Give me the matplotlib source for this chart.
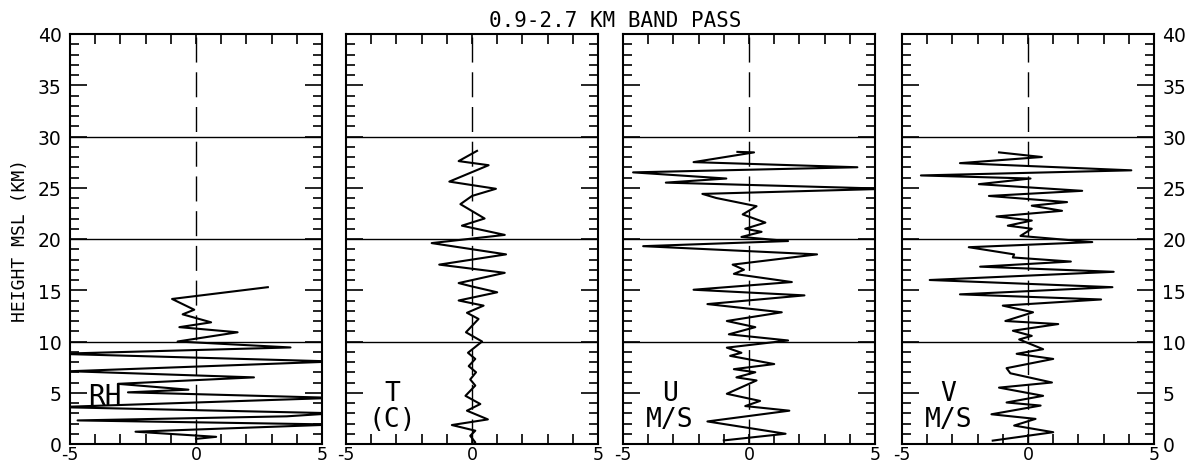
import matplotlib
matplotlib.use("Agg")
import matplotlib.pyplot as plt
from matplotlib.ticker import MultipleLocator

# band-passed profiles (value, height in km), listed from the top of each sounding down
rh_km = [15.3, 14.15, 13.1, 12.65, 11.87, 11.4, 10.9, 10.0, 9.42, 8.8, 8.05, 7.1, 6.5,
         5.87, 5.3, 5.04, 4.5, 3.6, 3.0, 2.7, 2.3, 1.9, 1.2, 0.7, 0.5]
rh_val = [2.85, -0.95, -0.07, -0.53, 0.6, -0.66, 1.65, -0.73, 3.75, -5.5, 5.5, -5.0, 2.3,
          -3.1, -0.3, -2.7, 5.5, -5.5, 5.5, 3.6, -4.7, 5.5, -2.4, 0.8, 0.0]

t_km = [28.6, 27.6, 27.2, 25.6, 24.9, 24.2, 23.4, 22.0, 21.3, 20.4, 19.6, 18.5, 17.5,
        16.7, 15.7, 15.4, 14.8, 14.0, 13.5, 12.8, 12.2, 10.9, 10.0, 8.9, 8.3, 7.6, 7.0,
        6.3, 5.7, 4.7, 3.9, 3.25, 2.4, 1.85, 1.3, 0.8, 0.16, 0.0]
t_val = [0.2, -0.53, 0.66, -0.9, 0.95, 0.0, -0.46, 0.5, -0.4, 1.3, -1.6, 1.35, -1.3,
         1.3, -0.53, -0.05, 1.0, -0.53, 0.46, -0.2, 0.26, -0.24, 0.4, -0.16, 0.13, -0.13, 0.16,
         -0.07, 0.13, -0.26, 0.33, -0.2, 0.63, -0.8, 0.13, -0.07, 0.13, 0.05]

u_km = [28.5, 28.45, 27.5, 27.0, 26.5, 25.9, 25.5, 24.9, 24.4, 24.0, 23.8, 23.2, 22.4,
        21.6, 21.0, 20.7, 20.2, 19.8, 19.3, 18.5, 17.5, 17.0, 16.6, 15.8, 15.05, 14.5,
        13.65, 12.85, 12.0, 11.4, 10.7, 10.1, 9.4, 8.9, 8.6, 7.8, 7.3, 7.0, 6.5, 6.2,
        4.9, 4.2, 3.7, 3.25, 2.2, 1.0, 0.35]
u_val = [-0.46, 0.2, -2.2, 4.3, -4.6, -0.9, -3.3, 5.5, -1.85, -1.3, -0.9, 0.3, -0.25,
         0.65, -0.15, 0.5, -0.3, 1.55, -4.2, 2.7, -0.65, -0.2, -0.6, 1.7, -2.2, 2.2,
         -1.65, 1.3, -0.88, 0.25, -0.8, 1.55, -0.88, -0.3, -0.75, 1.0, -0.6, 0.25, -0.5, 0.3,
         -0.88, 0.44, -0.15, 1.6, -1.65, 1.45, -1.0]

v_km = [28.45, 28.0, 27.4, 26.7, 26.2, 25.9, 25.35, 24.7, 24.2, 23.6, 23.25, 22.75, 22.2,
        21.8, 21.3, 21.0, 20.3, 19.7, 19.2, 18.5, 18.2, 17.8, 17.3, 16.8, 16.0, 15.3, 14.6,
        14.1, 13.5, 12.85, 12.0, 11.7, 11.05, 10.55, 10.2, 9.25, 8.8, 8.3, 7.4, 6.9, 6.0,
        5.5, 4.7, 4.05, 3.75, 2.9, 2.45, 1.8, 1.15, 0.33]
v_val = [-1.15, 0.55, -2.7, 4.1, -4.25, 0.1, -1.95, 2.15, -1.55, 1.55, 0.15, 1.35, -1.25,
         0.15, -0.8, 0.15, -0.3, 2.55, -2.35, -0.55, -0.6, 1.7, -1.9, 3.4, -3.9, 3.35, -2.7,
         2.9, -1.0, 0.2, -0.9, 1.2, -0.6, 0.15, -0.35, 0.6, -0.45, 1.0, -0.85, -0.7, 0.95,
         -1.15, 0.6, -0.85, 0.5, -1.45, 0.3, -0.55, 1.0, -1.4]

panel_names = [["RH"], ["T", "(C)"], ["U", "M/S"], ["V", "M/S"]]
x_ticklabels = ["-5", "", "", "", "", "0", "", "", "", "", "5"]

fig = plt.figure(figsize=(11.85, 4.64), dpi=100)
lefts = [70, 346, 623, 902]
series = [(rh_val, rh_km), (t_val, t_km), (u_val, u_km), (v_val, v_km)]

for i, (left, (vals, kms), names) in enumerate(zip(lefts, series, panel_names)):
    ax = fig.add_axes([left / 1185, 19 / 464, 252 / 1185, 410 / 464])
    ax.set_xlim(-5, 5)
    ax.set_ylim(0, 40)
    for h in (10, 20, 30):
        ax.axhline(h, color="k", lw=1.0)
    ax.axvline(0, color="k", lw=1.0, dashes=(18, 7))
    ax.plot(vals, kms, color="k", lw=1.5)

    ax.set_xticks(range(-5, 6))
    ax.set_xticklabels(x_ticklabels)
    ax.yaxis.set_major_locator(MultipleLocator(5))
    ax.yaxis.set_minor_locator(MultipleLocator(1))
    ax.tick_params(axis="x", direction="in", top=True, length=7, width=1.2,
                   labelsize=12.5, pad=1)
    ax.tick_params(axis="y", which="major", direction="in", left=True, right=True,
                   length=12, width=1.2, labelsize=13.5, pad=6)
    ax.tick_params(axis="y", which="minor", direction="in", left=True, right=True,
                   length=6.5, width=1.2)
    ax.tick_params(axis="y", labelleft=(i == 0), labelright=(i == 3))
    for sp in ax.spines.values():
        sp.set_linewidth(1.5)

    if len(names) == 1:
        ax.text(-4.3, 3.9, names[0], fontsize=20, family="DejaVu Sans Mono",
                ha="left", va="baseline")
    else:
        ax.text(-3.15, 4.3, names[0], fontsize=19, family="DejaVu Sans Mono",
                ha="center", va="baseline")
        ax.text(-3.15, 1.75, names[1], fontsize=19, family="DejaVu Sans Mono",
                ha="center", va="baseline")

    if i == 0:
        ax.set_ylabel("HEIGHT MSL (KM)", fontsize=13, family="DejaVu Sans Mono",
                      labelpad=6)

fig.text(615 / 1185, 1 - 21 / 464, "0.9-2.7 KM BAND PASS", fontsize=15,
         family="DejaVu Sans Mono", ha="center", va="center")

fig.savefig("out.png", dpi=100)
plt.close(fig)
